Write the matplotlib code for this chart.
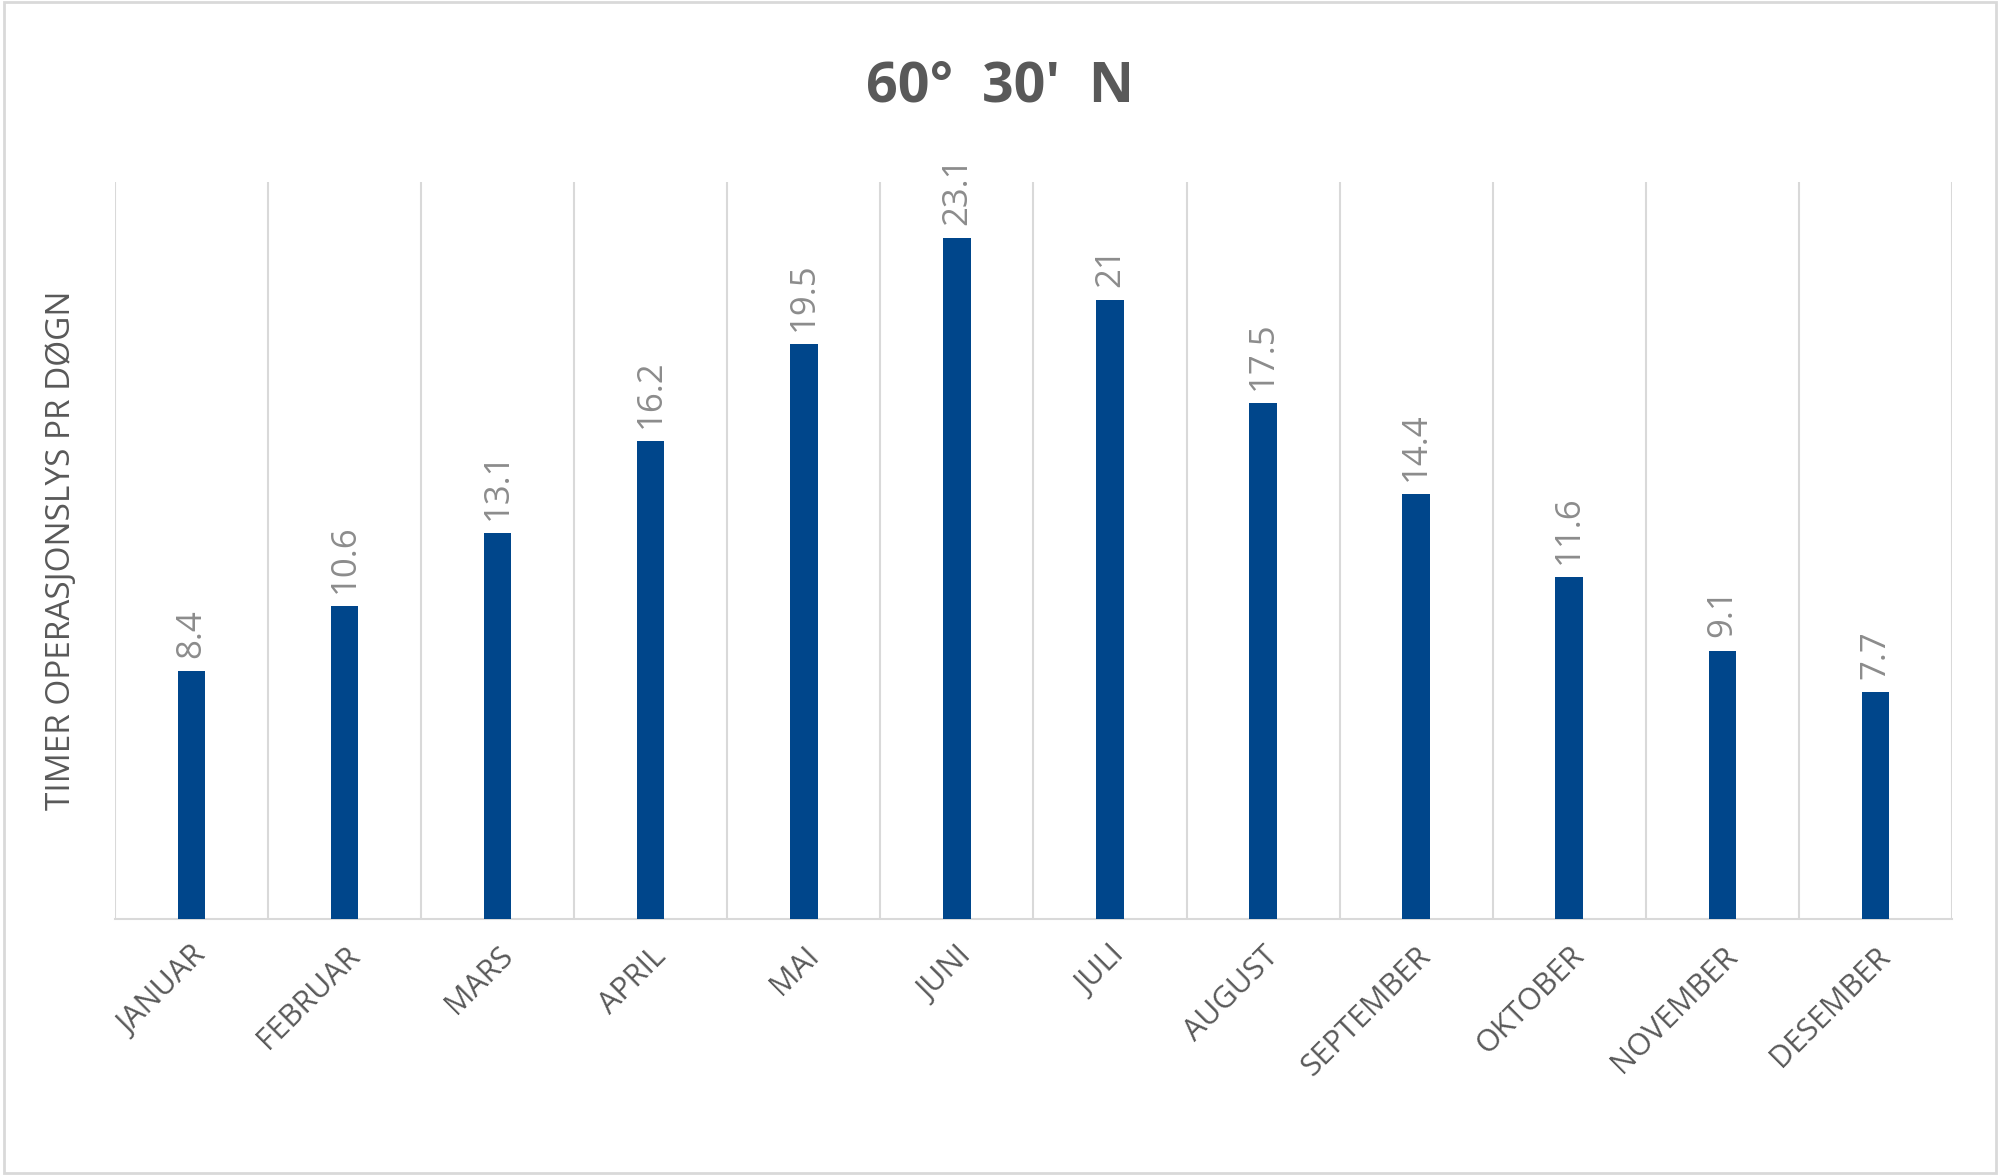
import matplotlib
matplotlib.use("Agg")
import matplotlib.pyplot as plt
from matplotlib.patches import Rectangle

MONTHS = ["JANUAR", "FEBRUAR", "MARS", "APRIL", "MAI", "JUNI", "JULI",
          "AUGUST", "SEPTEMBER", "OKTOBER", "NOVEMBER", "DESEMBER"]
HOURS = [8.4, 10.6, 13.1, 16.2, 19.5, 23.1, 21, 17.5, 14.4, 11.6, 9.1, 7.7]

TITLE = "60°  30'  N"
YLABEL = "TIMER OPERASJONSLYS PR DØGN"
C_BAR, C_TEXT, C_GRID = "#00468B", "#595959", "#D9D9D9"

plt.rcParams["font.family"] = ["Open Sans", "DejaVu Sans"]

fig = plt.figure(figsize=(20, 11.75), dpi=100)
ax = fig.add_axes([0.0574, 0.218, 0.9186, 0.627])
fig.patches.append(Rectangle((0.002, 0.002), 0.996, 0.996, transform=fig.transFigure,
                             fill=False, edgecolor=C_GRID, lw=2))

x = range(len(MONTHS))
ax.bar(x, HOURS, width=0.18, color=C_BAR, zorder=3)
for xi, v in zip(x, HOURS):
    ax.text(xi, v + 0.45, f"{v:g}", rotation=90, ha="center", va="bottom",
            color="#8C8C8C", fontsize=25)

ax.set_xlim(-0.5, len(MONTHS) - 0.5)
ax.set_ylim(0, 25)
for b in [i - 0.5 for i in range(len(MONTHS) + 1)]:
    ax.axvline(b, color=C_GRID, lw=1.5, zorder=1)
for s in ["top", "right", "left"]:
    ax.spines[s].set_visible(False)
ax.spines["bottom"].set_color(C_GRID)
ax.spines["bottom"].set_linewidth(1.5)
ax.set_yticks([])
ax.set_xticks(list(x))
ax.set_xticklabels(MONTHS, rotation=45, ha="right", rotation_mode="anchor",
                   fontsize=22, color=C_TEXT)
ax.tick_params(axis="x", length=0, pad=16)
ax.set_ylabel(YLABEL, fontsize=24, color=C_TEXT)
ax.yaxis.set_label_coords(-0.02, 0.5)

fig.text(0.5, 0.926, TITLE, ha="center", va="center", fontsize=40,
         fontweight="bold", color=C_TEXT)

fig.savefig("out.png", dpi=100)
